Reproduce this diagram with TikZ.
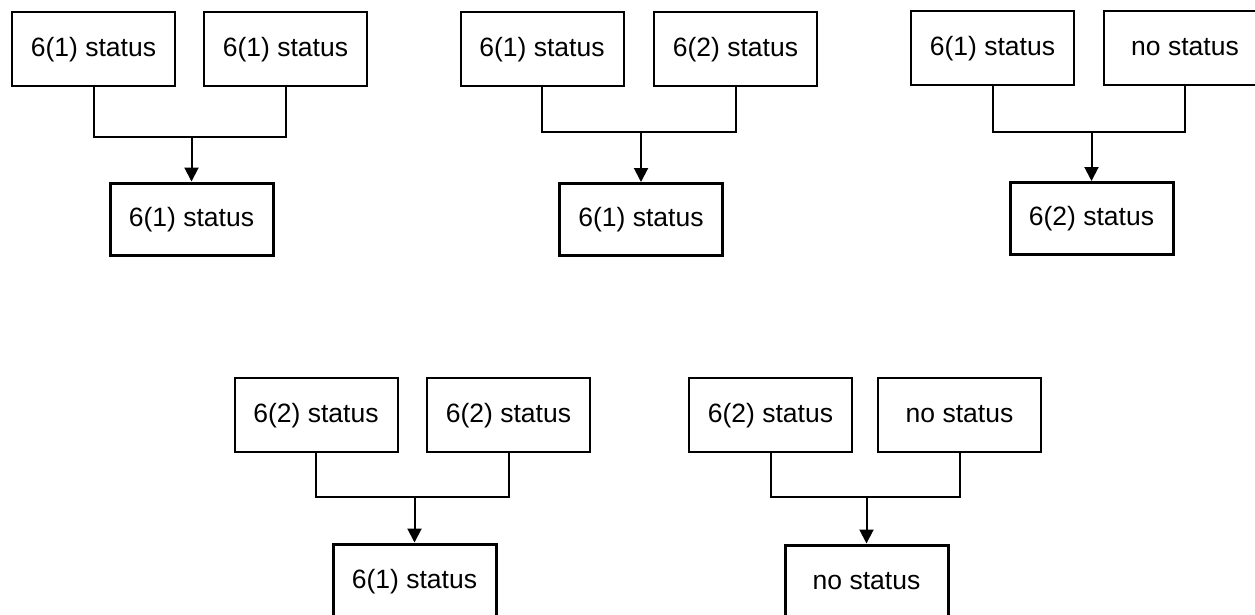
\documentclass[tikz,border=0pt]{standalone}
\usepackage{fontspec}
\setmainfont{Liberation Sans}
\usetikzlibrary{arrows.meta}
\begin{document}
\begin{tikzpicture}[x=1pt,y=-1pt,
  inbox/.style={draw,line width=2pt,minimum width=163pt,minimum height=74pt,inner sep=0pt,
    text height=19pt,text depth=5pt,
    font=\fontsize{26.5}{31}\selectfont},
  outbox/.style={inbox,line width=3pt,minimum height=72pt},
  link/.style={line width=2pt},
  arr/.style={line width=2pt,-{Triangle[length=14pt,width=14pt]}}]
\useasboundingbox[fill=white] (0,0) rectangle (1255,614);
% group 1
\node[inbox] (a1) at (93.5,49) {6(1) status};
\node[inbox] (b1) at (285.5,49) {6(1) status};
\node[outbox] (c1) at (191.5,219) {6(1) status};
\coordinate (m1) at (191.5,137);
\draw[link] (a1.south) |- (m1) -| (b1.south);
\draw[arr] (m1) -- (c1.north);
% group 2
\node[inbox] (a2) at (542,49) {6(1) status};
\node[inbox] (b2) at (735.5,49) {6(2) status};
\node[outbox] (c2) at (641,219.5) {6(1) status};
\coordinate (m2) at (641,132);
\draw[link] (a2.south) |- (m2) -| (b2.south);
\draw[arr] (m2) -- (c2.north);
% group 3
\node[inbox] (a3) at (992.5,48) {6(1) status};
\node[inbox] (b3) at (1185,48) {no status};
\node[outbox] (c3) at (1091.5,218.5) {6(2) status};
\coordinate (m3) at (1091.5,132);
\draw[link] (a3.south) |- (m3) -| (b3.south);
\draw[arr] (m3) -- (c3.north);
% group 4
\node[inbox] (a4) at (316,415) {6(2) status};
\node[inbox] (b4) at (508.5,415) {6(2) status};
\node[outbox,minimum height=74pt] (c4) at (414.5,581) {6(1) status};
\coordinate (m4) at (414.5,497);
\draw[link] (a4.south) |- (m4) -| (b4.south);
\draw[arr] (m4) -- (c4.north);
% group 5
\node[inbox] (a5) at (770.5,415) {6(2) status};
\node[inbox] (b5) at (959.5,415) {no status};
\node[outbox,minimum height=74pt] (c5) at (866.5,582) {no status};
\coordinate (m5) at (866.5,497);
\draw[link] (a5.south) |- (m5) -| (b5.south);
\draw[arr] (m5) -- (c5.north);
\end{tikzpicture}
\end{document}
